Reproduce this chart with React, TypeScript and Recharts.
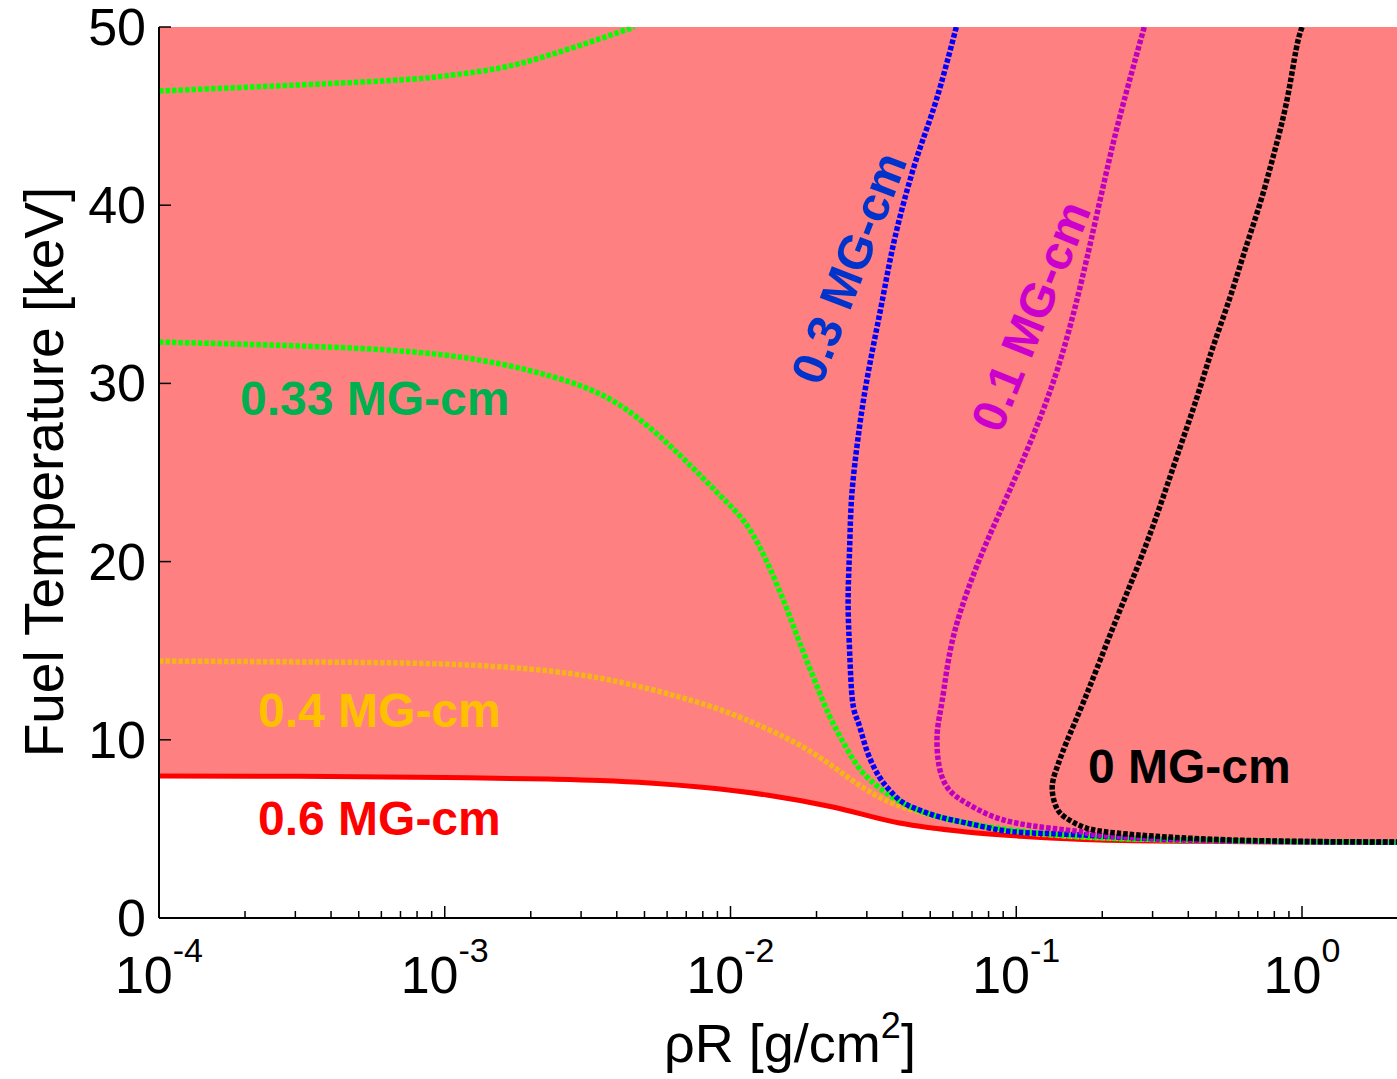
import React from "react";
import { Area, ComposedChart, Line, XAxis, YAxis } from "recharts";

const FONT = "'Liberation Sans', Arial, sans-serif";

// x: rho-R [g/cm^2], t: fuel temperature [keV]
const XMIN = 1e-4;
const XMAX = 2.15;
const X_MAJOR = [1e-4, 1e-3, 1e-2, 1e-1, 1];
const Y_TICKS = [0, 10, 20, 30, 40, 50];

const red06 = [
  { x: 1e-4, t: 7.97 }, { x: 3.1e-4, t: 7.95 }, { x: 1e-3, t: 7.88 },
  { x: 2.3e-3, t: 7.8 }, { x: 3.5e-3, t: 7.72 }, { x: 5.2e-3, t: 7.58 },
  { x: 7.8e-3, t: 7.35 }, { x: 1.34e-2, t: 6.9 }, { x: 2.28e-2, t: 6.23 },
  { x: 3.9e-2, t: 5.33 }, { x: 6.7e-2, t: 4.83 }, { x: 0.114, t: 4.55 },
  { x: 0.195, t: 4.38 }, { x: 0.44, t: 4.3 }, { x: 1.0, t: 4.26 }, { x: 2.15, t: 4.24 },
];

const orange04 = [
  { x: 1e-4, t: 14.42 }, { x: 3.1e-4, t: 14.37 }, { x: 1e-3, t: 14.25 },
  { x: 2.33e-3, t: 13.86 }, { x: 4.09e-3, t: 13.24 }, { x: 6.64e-3, t: 12.4 },
  { x: 9.92e-3, t: 11.5 }, { x: 1.367e-2, t: 10.55 }, { x: 1.742e-2, t: 9.71 },
  { x: 2.22e-2, t: 8.64 }, { x: 2.82e-2, t: 7.46 }, { x: 3.6e-2, t: 6.51 },
  { x: 4.58e-2, t: 5.95 }, { x: 6.32e-2, t: 5.39 }, { x: 0.1, t: 4.85 },
  { x: 0.2, t: 4.5 }, { x: 0.5, t: 4.35 }, { x: 1.0, t: 4.28 }, { x: 2.15, t: 4.25 },
];

const green033 = [
  { x: 1e-4, t: 32.32 }, { x: 3.1e-4, t: 32.1 }, { x: 1e-3, t: 31.59 },
  { x: 2.33e-3, t: 30.42 }, { x: 4.09e-3, t: 28.79 }, { x: 6.64e-3, t: 25.98 },
  { x: 9.16e-3, t: 23.74 }, { x: 1.12e-2, t: 22.22 }, { x: 1.316e-2, t: 20.26 },
  { x: 1.545e-2, t: 17.68 }, { x: 1.742e-2, t: 15.49 }, { x: 1.967e-2, t: 13.36 },
  { x: 2.22e-2, t: 11.34 }, { x: 2.51e-2, t: 9.71 }, { x: 2.82e-2, t: 8.42 },
  { x: 3.32e-2, t: 7.3 }, { x: 4.12e-2, t: 6.34 }, { x: 5.08e-2, t: 5.78 },
  { x: 6.69e-2, t: 5.33 }, { x: 0.1, t: 4.9 }, { x: 0.2, t: 4.5 },
  { x: 0.5, t: 4.35 }, { x: 1.0, t: 4.28 }, { x: 2.15, t: 4.25 },
];

const greenTop = [
  { x: 1e-4, t: 46.41 }, { x: 3.1e-4, t: 46.75 }, { x: 6.97e-4, t: 47.03 },
  { x: 1e-3, t: 47.25 }, { x: 1.56e-3, t: 47.7 }, { x: 2.33e-3, t: 48.43 },
  { x: 3.48e-3, t: 49.33 }, { x: 4.6e-3, t: 50 },
];

const blue03 = [
  { x: 6.17e-2, t: 50 }, { x: 5.25e-2, t: 45.9 }, { x: 4.58e-2, t: 43.1 },
  { x: 4.06e-2, t: 40.29 }, { x: 3.68e-2, t: 37.49 }, { x: 3.4e-2, t: 34.68 },
  { x: 3.14e-2, t: 31.87 }, { x: 2.92e-2, t: 29.07 }, { x: 2.76e-2, t: 26.26 },
  { x: 2.65e-2, t: 23.46 }, { x: 2.61e-2, t: 20.65 }, { x: 2.58e-2, t: 17.85 },
  { x: 2.61e-2, t: 15.04 }, { x: 2.67e-2, t: 12.23 }, { x: 2.78e-2, t: 11.11 },
  { x: 2.9e-2, t: 10.16 }, { x: 3.06e-2, t: 9.03 }, { x: 3.32e-2, t: 7.91 },
  { x: 3.6e-2, t: 7.18 }, { x: 3.99e-2, t: 6.51 }, { x: 4.58e-2, t: 6.06 },
  { x: 5.38e-2, t: 5.67 }, { x: 6.69e-2, t: 5.33 }, { x: 8.73e-2, t: 4.94 },
  { x: 0.1137, t: 4.77 }, { x: 0.17, t: 4.66 }, { x: 0.3, t: 4.45 },
  { x: 0.6, t: 4.33 }, { x: 1.0, t: 4.28 }, { x: 2.15, t: 4.25 },
];

const magenta01 = [
  { x: 0.2805, t: 50 }, { x: 0.2387, t: 45.9 }, { x: 0.2115, t: 42.54 },
  { x: 0.1828, t: 38.05 }, { x: 0.1607, t: 34.29 }, { x: 0.138, t: 30.58 },
  { x: 0.1128, t: 26.82 }, { x: 9.16e-2, t: 23.46 }, { x: 7.67e-2, t: 20.65 },
  { x: 6.58e-2, t: 17.85 }, { x: 5.88e-2, t: 15.04 }, { x: 5.51e-2, t: 12.23 },
  { x: 5.29e-2, t: 10.38 }, { x: 5.38e-2, t: 8.47 }, { x: 5.83e-2, t: 7.18 },
  { x: 6.69e-2, t: 6.45 }, { x: 8.05e-2, t: 5.78 }, { x: 0.1, t: 5.33 },
  { x: 0.13, t: 5.05 }, { x: 0.17, t: 4.83 }, { x: 0.1905, t: 4.66 },
  { x: 0.3, t: 4.47 }, { x: 0.6, t: 4.33 }, { x: 1.0, t: 4.29 }, { x: 2.15, t: 4.26 },
];

const black0 = [
  { x: 1.0, t: 50 }, { x: 0.953, t: 48.71 }, { x: 0.886, t: 45.9 },
  { x: 0.804, t: 43.1 }, { x: 0.719, t: 40.29 }, { x: 0.632, t: 37.49 },
  { x: 0.556, t: 34.68 }, { x: 0.484, t: 31.87 }, { x: 0.426, t: 29.07 },
  { x: 0.3715, t: 26.26 }, { x: 0.324, t: 23.46 }, { x: 0.28, t: 20.65 },
  { x: 0.2385, t: 17.85 }, { x: 0.203, t: 15.04 }, { x: 0.173, t: 12.23 },
  { x: 0.1495, t: 9.82 }, { x: 0.139, t: 8.47 }, { x: 0.1336, t: 7.35 },
  { x: 0.138, t: 6.23 }, { x: 0.1495, t: 5.61 }, { x: 0.176, t: 5.05 },
  { x: 0.224, t: 4.77 }, { x: 0.334, t: 4.55 }, { x: 0.569, t: 4.38 },
  { x: 1.0, t: 4.3 }, { x: 2.15, t: 4.26 },
];

// log minor ticks 2..9 in each decade up to 1
const xTicks: number[] = [];
X_MAJOR.forEach((m, i) => {
  xTicks.push(m);
  if (i < X_MAJOR.length - 1) for (let k = 2; k <= 9; k++) xTicks.push(+(m * k).toPrecision(3));
});

// band between 0.6 MG-cm curve and top of the plot
const band = red06.map((d) => ({ x: d.x, band: [d.t, 50] }));

const DASH = "4.5 2";
const LW = 5.5;

function XTick(props: any) {
  const { x, y, payload } = props;
  const lg = Math.log10(payload.value);
  const exp = Math.round(lg);
  const major = Math.abs(lg - exp) < 1e-6;
  return (
    <g>
      <line x1={x} x2={x} y1={y} y2={y - (major ? 12 : 7)} stroke="#000" strokeWidth={1.5} />
      {major && (
        <text x={x} y={y + 75} textAnchor="middle" fontSize={52} fontFamily={FONT} fill="#000">
          10
          <tspan dy={-31} fontSize={34}>
            {String(exp)}
          </tspan>
        </text>
      )}
    </g>
  );
}

function YTick(props: any) {
  const { x, y, payload } = props;
  return (
    <g>
      <line x1={x} x2={x + 12} y1={y} y2={y} stroke="#000" strokeWidth={1.5} />
      <text x={x - 13} y={y + 18} textAnchor="end" fontSize={52} fontFamily={FONT} fill="#000">
        {payload.value}
      </text>
    </g>
  );
}

const labelStyle = { fontFamily: FONT, fontWeight: 700, fontSize: 48 } as const;

export default function App() {
  return (
    <div style={{ position: "fixed", left: 0, top: 0, width: 1397, height: 1079, background: "#fff", fontFamily: FONT }}>
      <ComposedChart width={1397} height={1079} data={band} margin={{ top: 27, right: 0, left: 0, bottom: 0 }}>
        <XAxis
          dataKey="x"
          type="number"
          scale="log"
          domain={[XMIN, XMAX]}
          allowDataOverflow
          ticks={xTicks}
          interval={0}
          tickSize={0}
          tickMargin={0}
          tickLine={false}
          axisLine={{ stroke: "#000", strokeWidth: 2 }}
          tick={<XTick />}
          height={161}
        />
        <YAxis
          type="number"
          domain={[0, 50]}
          allowDataOverflow
          ticks={Y_TICKS}
          interval={0}
          tickSize={0}
          tickMargin={0}
          tickLine={false}
          axisLine={{ stroke: "#000", strokeWidth: 2 }}
          tick={<YTick />}
          width={159}
        />
        <Area dataKey="band" type="monotone" stroke="none" fill="#FF8080" fillOpacity={1} isAnimationActive={false} />
        <Line data={red06} dataKey="t" type="monotone" stroke="#FF0000" strokeWidth={5} dot={false} activeDot={false} isAnimationActive={false} />
        <Line data={orange04} dataKey="t" type="natural" stroke="#F5B41A" strokeWidth={LW} strokeDasharray={DASH} dot={false} activeDot={false} isAnimationActive={false} />
        <Line data={green033} dataKey="t" type="natural" stroke="#00FF00" strokeWidth={LW} strokeDasharray={DASH} dot={false} activeDot={false} isAnimationActive={false} />
        <Line data={greenTop} dataKey="t" type="natural" stroke="#00FF00" strokeWidth={LW} strokeDasharray={DASH} dot={false} activeDot={false} isAnimationActive={false} />
        <Line data={blue03} dataKey="t" type="natural" stroke="#0000FF" strokeWidth={LW} strokeDasharray={DASH} dot={false} activeDot={false} isAnimationActive={false} />
        <Line data={magenta01} dataKey="t" type="natural" stroke="#BF00BF" strokeWidth={LW} strokeDasharray={DASH} dot={false} activeDot={false} isAnimationActive={false} />
        <Line data={black0} dataKey="t" type="natural" stroke="#000000" strokeWidth={LW} strokeDasharray={DASH} dot={false} activeDot={false} isAnimationActive={false} />
      </ComposedChart>
      <svg width={1397} height={1079} style={{ position: "absolute", left: 0, top: 0, pointerEvents: "none" }}>
        <text x={240} y={415} fill="#00B050" style={labelStyle}>0.33 MG-cm</text>
        <text x={258} y={727} fill="#FFC000" style={labelStyle}>0.4 MG-cm</text>
        <text x={258} y={835} fill="#FF0000" style={labelStyle}>0.6 MG-cm</text>
        <text x={1088} y={783} fill="#000000" style={labelStyle}>0 MG-cm</text>
        <text x={849} y={268} fill="#0033CC" style={labelStyle} textAnchor="middle" dominantBaseline="central" transform="rotate(-69 849 268)">0.3 MG-cm</text>
        <text x={1031} y={316} fill="#CC00CC" style={labelStyle} textAnchor="middle" dominantBaseline="central" transform="rotate(-68 1031 316)">0.1 MG-cm</text>
        <text x={63} y={472} fontSize={55} fontFamily={FONT} fill="#000" textAnchor="middle" transform="rotate(-90 63 472)">Fuel Temperature [keV]</text>
        <text x={790} y={1062} fontSize={54} fontFamily={FONT} fill="#000" textAnchor="middle">
          ρR [g/cm<tspan dy={-24} fontSize={36}>2</tspan><tspan dy={24}>]</tspan>
        </text>
      </svg>
    </div>
  );
}
